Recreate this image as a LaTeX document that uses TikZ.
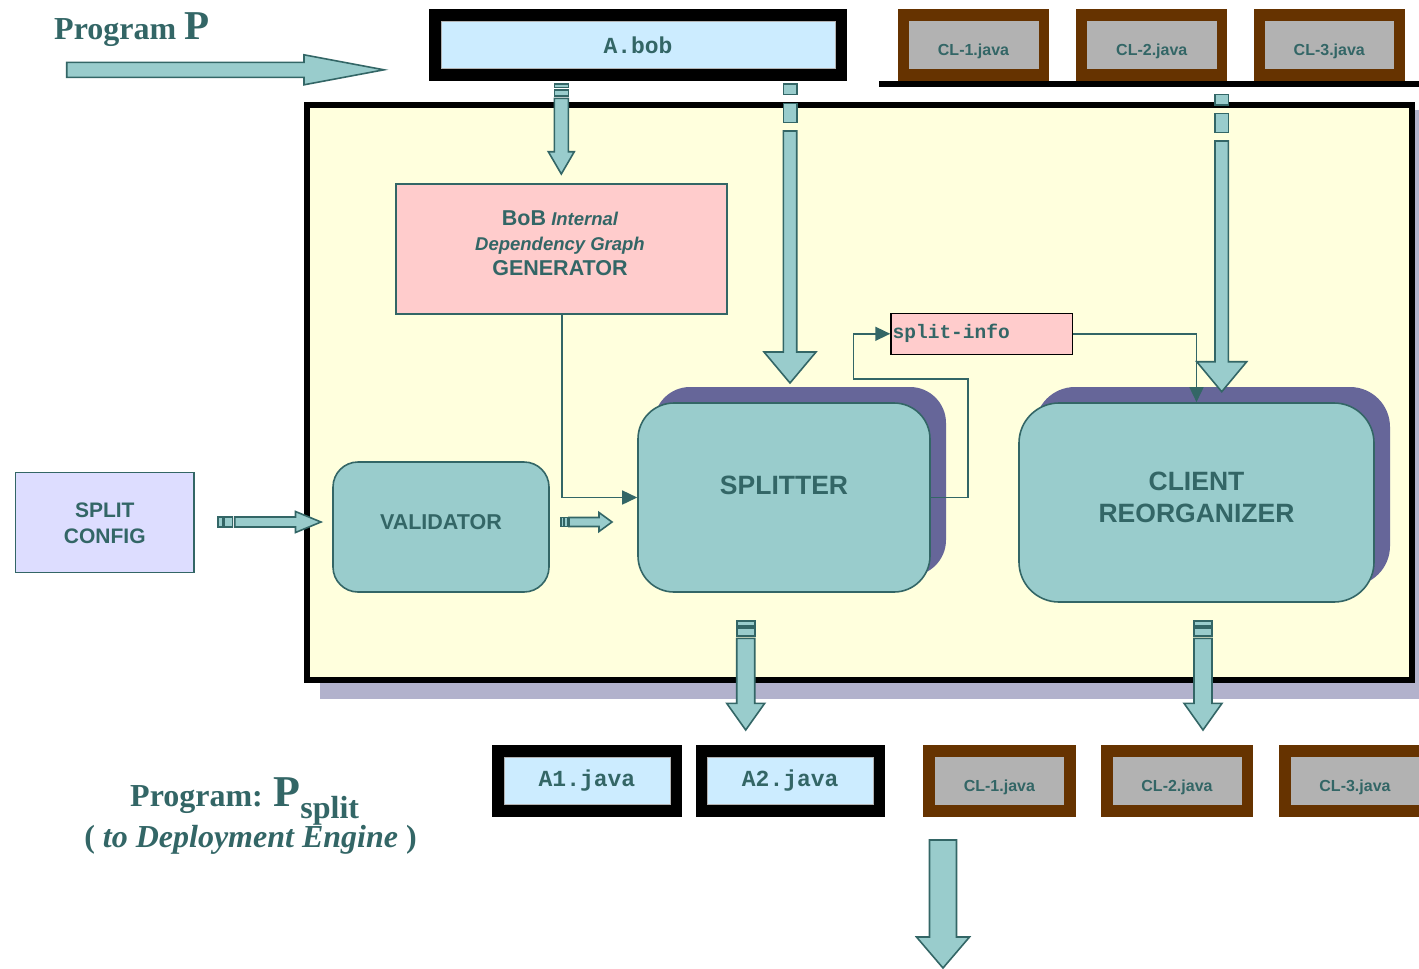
\documentclass[tikz,border=0pt]{standalone}
\usepackage{fontspec}
\setmainfont{Liberation Serif}
\setsansfont{Liberation Sans}
\setmonofont{Liberation Mono}
\usetikzlibrary{arrows.meta}

\definecolor{ink}{RGB}{51,102,102}
\definecolor{arrowfill}{RGB}{153,204,204}
\definecolor{bgyellow}{RGB}{255,255,221}
\definecolor{pinkbox}{RGB}{255,204,204}
\definecolor{fileblue}{RGB}{204,236,255}
\definecolor{filegrey}{RGB}{178,178,178}
\definecolor{filebrown}{RGB}{102,51,0}
\definecolor{shadowpurple}{RGB}{102,102,153}
\definecolor{configlav}{RGB}{221,221,255}
\definecolor{frameshadow}{RGB}{178,178,204}

\newcommand{\pxsize}[2]{\fontsize{#1}{#2}\selectfont}

% block arrows: vertical (x, body top, head start, tip, half body, half head)
\newcommand{\blockdown}[6]{%
  \draw[blockarrow] (#1-#5,#2) -- (#1+#5,#2) -- (#1+#5,#3) -- (#1+#6,#3)
    -- (#1,#4) -- (#1-#6,#3) -- (#1-#5,#3) -- cycle;}
% horizontal (y, body left, head start, tip, half body, half head)
\newcommand{\blockright}[6]{%
  \draw[blockarrow] (#2,#1-#5) -- (#3,#1-#5) -- (#3,#1-#6) -- (#4,#1)
    -- (#3,#1+#6) -- (#3,#1+#5) -- (#2,#1+#5) -- cycle;}
% tail pieces of the broken arrows
\newcommand{\tailv}[4]{\draw[blockarrow] (#1-#4,#2) rectangle (#1+#4,#3);}
\newcommand{\tailh}[4]{\draw[blockarrow] (#2,#1-#4) rectangle (#3,#1+#4);}

\begin{document}
\begin{tikzpicture}[x=1pt,y=-1pt,
  blockarrow/.style={fill=arrowfill, draw=ink, line width=1.6pt, line join=miter},
  conn/.style={draw=ink, line width=1.6pt, -{Triangle[length=15pt,width=14pt]}},
  procbox/.style={draw=ink, line width=1.6pt, fill=arrowfill, inner sep=0},
  procshadow/.style={fill=shadowpurple, inner sep=0},
  blackframe/.style={fill=black, inner sep=0},
  brownframe/.style={fill=filebrown, inner sep=0},
  bluefile/.style={fill=fileblue, draw=black!30, line width=0.5pt, inner sep=0,
    minimum height=47pt, text=ink, font=\ttfamily\bfseries\pxsize{23}{23}},
  greyfile/.style={fill=filegrey, draw=black!30, line width=0.5pt, inner sep=0,
    minimum width=128.5pt, minimum height=47pt},
  cllabel/.style={inner sep=0, text=ink, font=\sffamily\bfseries\pxsize{16}{16}},
  bigtitle/.style={inner sep=0, text=ink, font=\rmfamily\bfseries\pxsize{32}{32}},
  proclabel/.style={inner sep=0, text=ink, align=center}
]
\useasboundingbox (0,0) rectangle (1419,969);
\fill[white] (0,0) rectangle (1419,969);

% ---- input program ----
\node[bigtitle, anchor=base west] (progP) at (54,39) {Program {\pxsize{41}{41}P}};
\blockright{69.8}{66.7}{304}{384}{7.5}{15}

\node[blackframe, minimum width=418pt, minimum height=71.4pt] (abobframe) at (638,45) {};
\node[bluefile, minimum width=394pt] (abob) at (638,45) {A.bob};

\foreach \cx/\i in {973.5/1, 1151.8/2, 1329.3/3}{
  \node[brownframe, minimum width=151pt, minimum height=71.4pt] (cltframe\i) at (\cx,45) {};
  \node[greyfile] (clt\i) at (\cx,45) {};
  \node[cllabel] (cltlabel\i) at (\cx,51.5) {CL-\i.java};
}
\fill[black] (878.6,80.7) rectangle (1419,87);

% ---- compiler frame ----
\fill[frameshadow] (320,110) rectangle (1430,699);
\node[draw=black, line width=5.5pt, fill=bgyellow, minimum width=1104.8pt,
      minimum height=575pt, inner sep=0] (frame) at (859.4,392.5) {};

% dependency graph generator
\node[draw=ink, line width=1.6pt, fill=pinkbox, minimum width=331pt,
      minimum height=130pt, inner sep=0] (gen) at (561.7,249) {};
\node[proclabel, font=\sffamily\bfseries\pxsize{18.5}{25}] (genlabel) at (560,243.5)
  {{\pxsize{21.5}{25}BoB} {\itshape Internal}\\
   {\itshape Dependency Graph}\\
   {\pxsize{21.5}{25}GENERATOR}};

% split configuration
\node[draw=ink, line width=1.2pt, fill=configlav, minimum width=178.5pt,
      minimum height=100pt, inner sep=0] (config) at (104.8,522.3) {};
\node[proclabel, font=\sffamily\bfseries\pxsize{21}{26}] (configlabel) at (104.8,523) {SPLIT\\CONFIG};

% validator
\node[procbox, rounded corners=25pt, minimum width=216pt, minimum height=130pt] (validator) at (441,527) {};
\node[proclabel, font=\sffamily\bfseries\pxsize{21.5}{21.5}] (validatorlabel) at (441,522) {VALIDATOR};

% splitter
\node[procshadow, rounded corners=36pt, minimum width=292pt, minimum height=189pt] (splittershadow) at (800,481.5) {};
\node[procbox, rounded corners=36pt, minimum width=292pt, minimum height=189pt] (splitter) at (784,497.5) {};
\node[proclabel, font=\sffamily\bfseries\pxsize{26.5}{26.5}] (splitterlabel) at (784,485) {SPLITTER};

% client reorganizer
\node[procshadow, rounded corners=40pt, minimum width=355pt, minimum height=199pt] (clientshadow) at (1212.5,486.5) {};
\node[procbox, rounded corners=40pt, minimum width=355pt, minimum height=199pt] (client) at (1196.5,502.5) {};
\node[proclabel, font=\sffamily\bfseries\pxsize{26.5}{32}] (clientlabel) at (1196.5,497) {CLIENT\\REORGANIZER};

% split information
\node[draw=black, line width=1.6pt, fill=pinkbox, minimum width=181.3pt,
      minimum height=41pt, inner sep=0] (splitinfo) at (981.7,333.8) {};
\node[anchor=west, inner sep=0, text=ink, font=\ttfamily\bfseries\pxsize{19.5}{19.5}] (splitinfolabel)
  at (892.5,333.8) {split-info};

% ---- block arrows ----
% A.bob into the generator
\tailv{561.3}{84}{87.3}{7}
\tailv{561.3}{90}{95.7}{7}
\blockdown{561.3}{98.3}{151.7}{174}{7}{13}
% A.bob into the splitter
\tailv{790}{84}{94.3}{6.7}
\tailv{790}{103.3}{122.3}{6.7}
\blockdown{790}{131}{352}{383}{6.7}{26}
% client classes into the reorganizer
\tailv{1221.7}{94.3}{105}{6.7}
\tailv{1221.7}{113.3}{132.3}{6.7}
\blockdown{1221.7}{141}{361.7}{391.7}{6.7}{25}
% split config into the validator
\tailh{522}{218}{222.4}{5}
\tailh{522}{223.7}{232.6}{5}
\blockright{522}{234.7}{295.5}{321}{5}{10.5}
% validator into the splitter
\tailh{522}{561}{563.5}{4.5}
\tailh{522}{564.5}{567.5}{4.5}
\blockright{522}{569}{599}{612}{4.5}{9.5}
% outputs
\tailv{745.7}{620.7}{625.7}{9}
\tailv{745.7}{627.7}{635.7}{9}
\blockdown{745.7}{638.3}{703.3}{730}{9}{19}
\tailv{1203}{620.7}{625.7}{9}
\tailv{1203}{627.7}{635.7}{9}
\blockdown{1203}{638.3}{703.3}{730}{9}{19}

% ---- connectors ----
\coordinate (loopA) at (967.7,378.7);
\coordinate (loopB) at (853.3,333.8);
\draw[conn] (gen.south) |- (splitter.west);
\draw[conn] (splitter.east) -| (loopA) -| (loopB) -- (splitinfo.west);
\draw[conn] (splitinfo.east) -| (client.north);

% ---- output program ----
\node[blackframe, minimum width=189.8pt, minimum height=71.7pt] (a1frame) at (586.9,780.9) {};
\node[bluefile, minimum width=166pt] (a1) at (587,780.6) {A1.java};
\node[blackframe, minimum width=189.2pt, minimum height=71.7pt] (a2frame) at (790.2,780.9) {};
\node[bluefile, minimum width=165.3pt] (a2) at (790.2,780.6) {A2.java};

\foreach \cx/\i in {999.4/1, 1177/2, 1355/3}{
  \node[brownframe, minimum width=152.8pt, minimum height=72pt] (clbframe\i) at (\cx,781) {};
  \node[greyfile] (clb\i) at (\cx,780.5) {};
  \node[cllabel] (clblabel\i) at (\cx,787.5) {CL-\i.java};
}

\node[bigtitle, anchor=base west] (progsplit) at (130,806)
  {Program: {\pxsize{44}{44}P}\raisebox{-12pt}{split}};
\node[bigtitle, anchor=base] (deploy) at (250.5,847)
  {( \textit{to Deployment Engine} )};

\blockdown{943}{840}{937}{968}{13.5}{26.5}
\end{tikzpicture}
\end{document}
